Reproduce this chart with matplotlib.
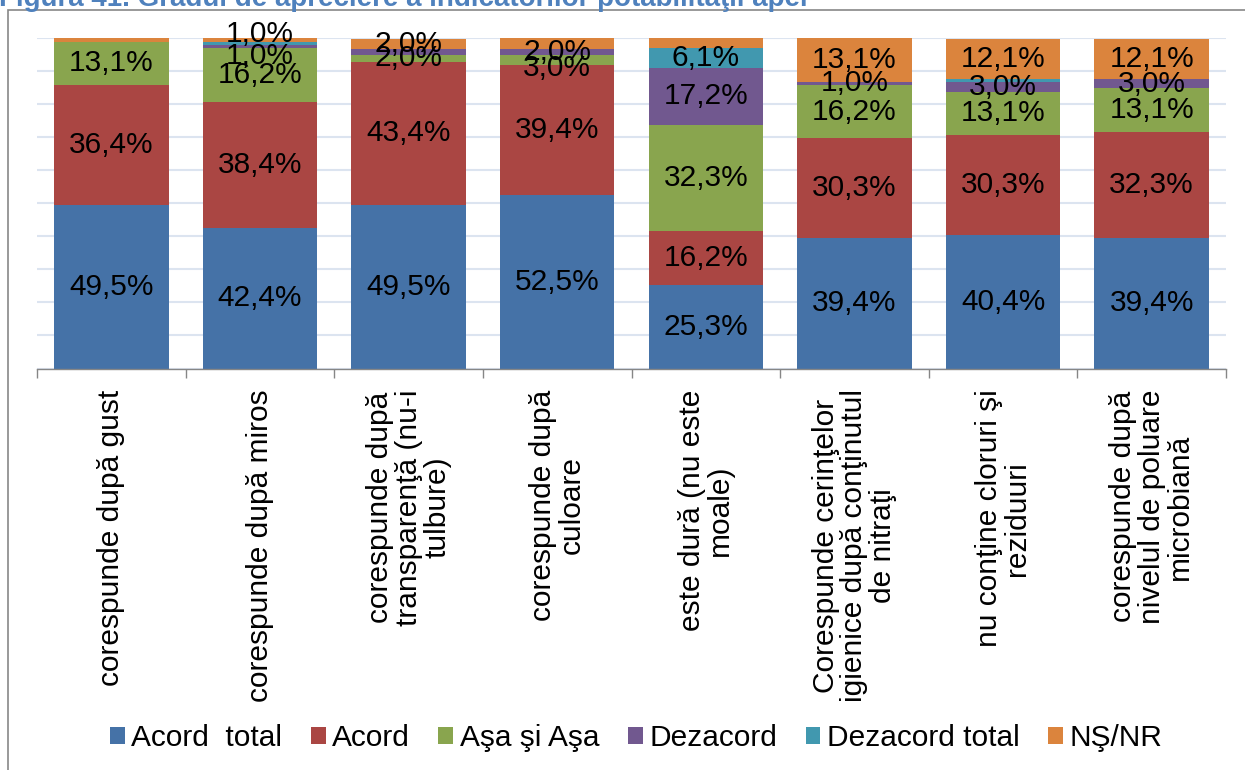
import matplotlib
matplotlib.use("Agg")
import matplotlib.pyplot as plt
from matplotlib.patches import Rectangle, Patch
import numpy as np

plt.rcParams['font.family'] = ['Liberation Sans', 'DejaVu Sans']

title = "Figura 41. Gradul de apreciere a indicatorilor potabilităţii apei"

categories = [
    "corespunde după gust",
    "corespunde după miros",
    "corespunde după\ntransparenţă (nu-i\ntulbure)",
    "corespunde după\nculoare",
    "este dură (nu este\nmoale)",
    "Corespunde cerinţelor\nigienice după conţinutul\nde nitraţi",
    "nu conţine cloruri şi\nreziduuri",
    "corespunde după\nnivelul de poluare\nmicrobiană",
]

series_names = ["Acord  total", "Acord", "Aşa şi Aşa", "Dezacord", "Dezacord total", "NŞ/NR"]

acord_total    = [49.5, 42.4, 49.5, 52.5, 25.3, 39.4, 40.4, 39.4]
acord          = [36.4, 38.4, 43.4, 39.4, 16.2, 30.3, 30.3, 32.3]
asa_si_asa     = [13.1, 16.2, 2.0, 3.0, 32.3, 16.2, 13.1, 13.1]
dezacord       = [0.0, 1.0, 2.0, 2.0, 17.2, 1.0, 3.0, 3.0]
dezacord_total = [0.0, 1.0, 0.0, 0.0, 6.1, 0.0, 1.0, 0.0]
ns_nr          = [1.0, 1.0, 3.0, 3.1, 2.9, 13.1, 12.1, 12.1]

series = [acord_total, acord, asa_si_asa, dezacord, dezacord_total, ns_nr]
colors = ["#4572A7", "#AA4643", "#89A54E", "#71588F", "#4198AF", "#DB843D"]

# labels not displayed in the original (category index, series index)
hidden_labels = {(0, 5), (1, 4), (2, 5), (3, 5), (4, 5), (6, 4)}
# vertical nudges of crowded labels, in points
label_nudge = {(1, 5): 4, (1, 3): -7, (2, 3): 6, (3, 2): -6}

FS = 21.5
W, H = 1245, 770
fig = plt.figure(figsize=(W / 100, H / 100), dpi=100)

# outer frame
fig.patches.append(Rectangle((7.5 / W, -0.05), 1.1, 1 - 9.5 / H + 0.05,
                             transform=fig.transFigure, fill=False,
                             edgecolor="#878787", linewidth=1.2, zorder=0))

fig.text(-1 / W, 1 - 6 / H, title, fontsize=20, fontweight='bold',
         color="#4F81BD", ha='left', va='baseline')

ax = fig.add_axes([37 / W, 1 - 368.5 / H, (1226 - 37) / W, (368.5 - 38.3) / H])

x = np.arange(len(categories))
bottom = np.zeros(len(categories))
bar_width = 0.77
for si, (vals, col) in enumerate(zip(series, colors)):
    vals = np.array(vals)
    ax.bar(x, vals, bar_width, bottom=bottom, color=col, edgecolor='none',
           label=series_names[si], zorder=2)
    for ci, v in enumerate(vals):
        if v <= 0 or (ci, si) in hidden_labels:
            continue
        ax.annotate(f"{v:.1f}%".replace('.', ','),
                    xy=(x[ci], bottom[ci] + v / 2),
                    xytext=(0, label_nudge.get((ci, si), 0)),
                    textcoords='offset points',
                    ha='center', va='center', fontsize=FS, color='black',
                    zorder=4)
    bottom += vals

ax.set_xlim(-0.5, len(categories) - 0.5)
ax.set_ylim(0, 100)
ax.set_yticks(np.arange(0, 101, 10))
ax.yaxis.grid(True, color="#DCE4F0", linewidth=1.5, zorder=0)
ax.set_axisbelow(True)
ax.tick_params(axis='y', left=False, labelleft=False)

for s in ['top', 'right', 'left']:
    ax.spines[s].set_visible(False)
ax.spines['bottom'].set_color("#868686")
ax.spines['bottom'].set_linewidth(1.0)
ax.spines['bottom'].set_zorder(3)

ax.set_xticks(x)
ax.set_xticklabels(categories, rotation=90, fontsize=FS, ha='center', va='top',
                   multialignment='center', linespacing=1.02)
ax.tick_params(axis='x', which='major', length=0, pad=15)
ax.set_xticks(np.arange(-0.5, len(categories), 1.0), minor=True)
ax.tick_params(axis='x', which='minor', length=6.5, width=1.0, color="#868686",
               direction='out')

handles = [Patch(facecolor=c, edgecolor='none') for c in colors]
fig.legend(handles, series_names, loc='center', bbox_to_anchor=(0.511, 1 - 738 / H),
           ncol=6, frameon=False, fontsize=FS, handlelength=0.5, handleheight=0.5,
           handletextpad=0.22, columnspacing=0.95, borderaxespad=0)

fig.savefig("out.png", dpi=100)
